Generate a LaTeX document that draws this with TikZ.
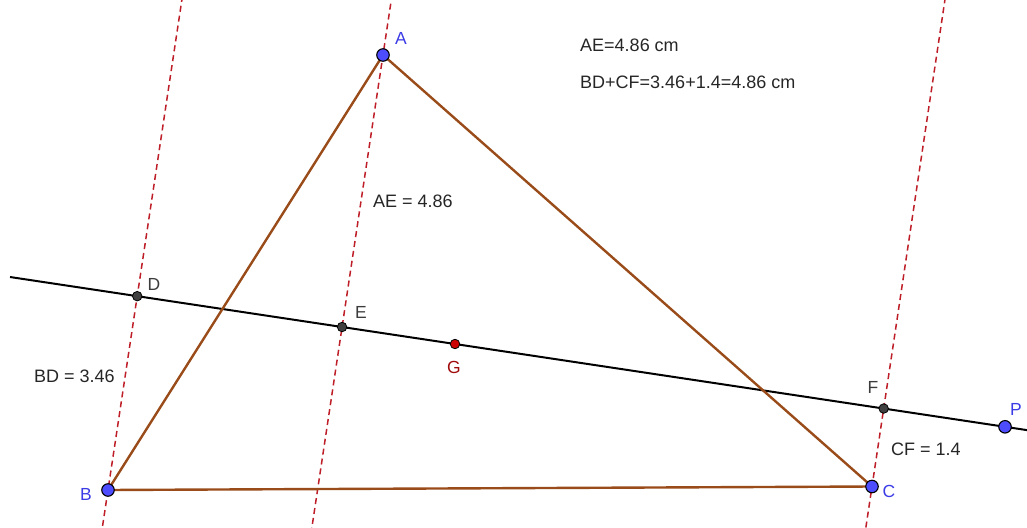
\documentclass[tikz,border=0pt]{standalone}
\usepackage{fontspec}
\setmainfont{Liberation Sans}
\usetikzlibrary{calc}
\definecolor{tribrown}{RGB}{153,76,25}
\definecolor{dashred}{RGB}{190,30,40}
\definecolor{ptblue}{RGB}{77,77,255}
\definecolor{ptdark}{RGB}{64,64,64}
\definecolor{ptred}{RGB}{204,0,0}
\definecolor{lblblue}{RGB}{60,60,230}
\definecolor{lbldark}{RGB}{60,60,60}
\definecolor{lblred}{RGB}{160,10,10}
\begin{document}
\begin{tikzpicture}[x=1pt,y=-1pt,
  txt/.style={font=\fontsize{18}{21}\selectfont, text=black!85, inner sep=0pt, anchor=west},
  lbl/.style={font=\fontsize{17.5}{20}\selectfont, inner sep=0pt},
  bigpt/.style={circle, draw=black, line width=1.1pt, fill=ptblue, minimum size=12.5pt, inner sep=0pt},
  smallpt/.style={circle, draw=black, line width=0.8pt, fill=ptdark, minimum size=9.5pt, inner sep=0pt},
  redpt/.style={circle, draw=black, line width=0.8pt, fill=ptred, minimum size=9.5pt, inner sep=0pt},
  side/.style={draw=tribrown, line width=2.4pt},
  perp/.style={draw=dashred, line width=1.5pt, dash pattern=on 6pt off 4pt},
  mainline/.style={draw=black, line width=2pt}]
\useasboundingbox (0,0) rectangle (1027,527);
\clip (0,0) rectangle (1027,527);
\coordinate (pA) at (383,55);
\coordinate (pB) at (108,490);
\coordinate (pC) at (872,486.5);
\coordinate (pG) at (455,344);
\coordinate (pP) at (1005,426.8);
\coordinate (pD) at ($(pG)!(pB)!(pP)$);
\coordinate (pE) at ($(pG)!(pA)!(pP)$);
\coordinate (pF) at ($(pG)!(pC)!(pP)$);
\coordinate (l1) at ($(pG)!-0.809!(pP)$);
\coordinate (l2) at ($(pG)!1.06!(pP)$);
\coordinate (dA1) at ($(pE)!-0.76!(pA)$);
\coordinate (dA2) at ($(pE)!1.23!(pA)$);
\coordinate (dB1) at ($(pD)!-1.6!(pB)$);
\coordinate (dB2) at ($(pD)!1.3!(pB)$);
\coordinate (dC1) at ($(pF)!-5.4!(pC)$);
\coordinate (dC2) at ($(pF)!1.6!(pC)$);
% dashed perpendiculars
\draw[perp] (dA1) -- (dA2);
\draw[perp] (dB1) -- (dB2);
\draw[perp] (dC1) -- (dC2);
% line through G and P
\draw[mainline] (l1) -- (l2);
% triangle
\draw[side, line join=round] (pA) -- (pB) -- (pC) -- cycle;
% points
\node[bigpt] (A) at (pA) {};
\node[bigpt] (B) at (pB) {};
\node[bigpt] (C) at (pC) {};
\node[bigpt] (P) at (pP) {};
\node[smallpt] (D) at (pD) {};
\node[smallpt] (E) at (pE) {};
\node[smallpt] (F) at (pF) {};
\node[redpt] (G) at (pG) {};
% point labels
\node[lbl, text=lblblue] (tA) at (401,38) {A};
\node[lbl, text=lblblue] (tB) at (86,494) {B};
\node[lbl, text=lblblue] (tC) at (889,491) {C};
\node[lbl, text=lblblue] (tP) at (1016,409) {P};
\node[lbl, text=lbldark] (tD) at (154,284) {D};
\node[lbl, text=lbldark] (tE) at (361,312) {E};
\node[lbl, text=lbldark] (tF) at (873,387) {F};
\node[lbl, text=lblred] (tG) at (454,367) {G};
% measurement texts
\node[txt] (m1) at (580,45) {AE=4.86 cm};
\node[txt] (m2) at (580,82) {BD+CF=3.46+1.4=4.86 cm};
\node[txt] (m3) at (373,201) {AE = 4.86};
\node[txt] (m4) at (34,376) {BD = 3.46};
\node[txt] (m5) at (891,449) {CF = 1.4};
\end{tikzpicture}
\end{document}
